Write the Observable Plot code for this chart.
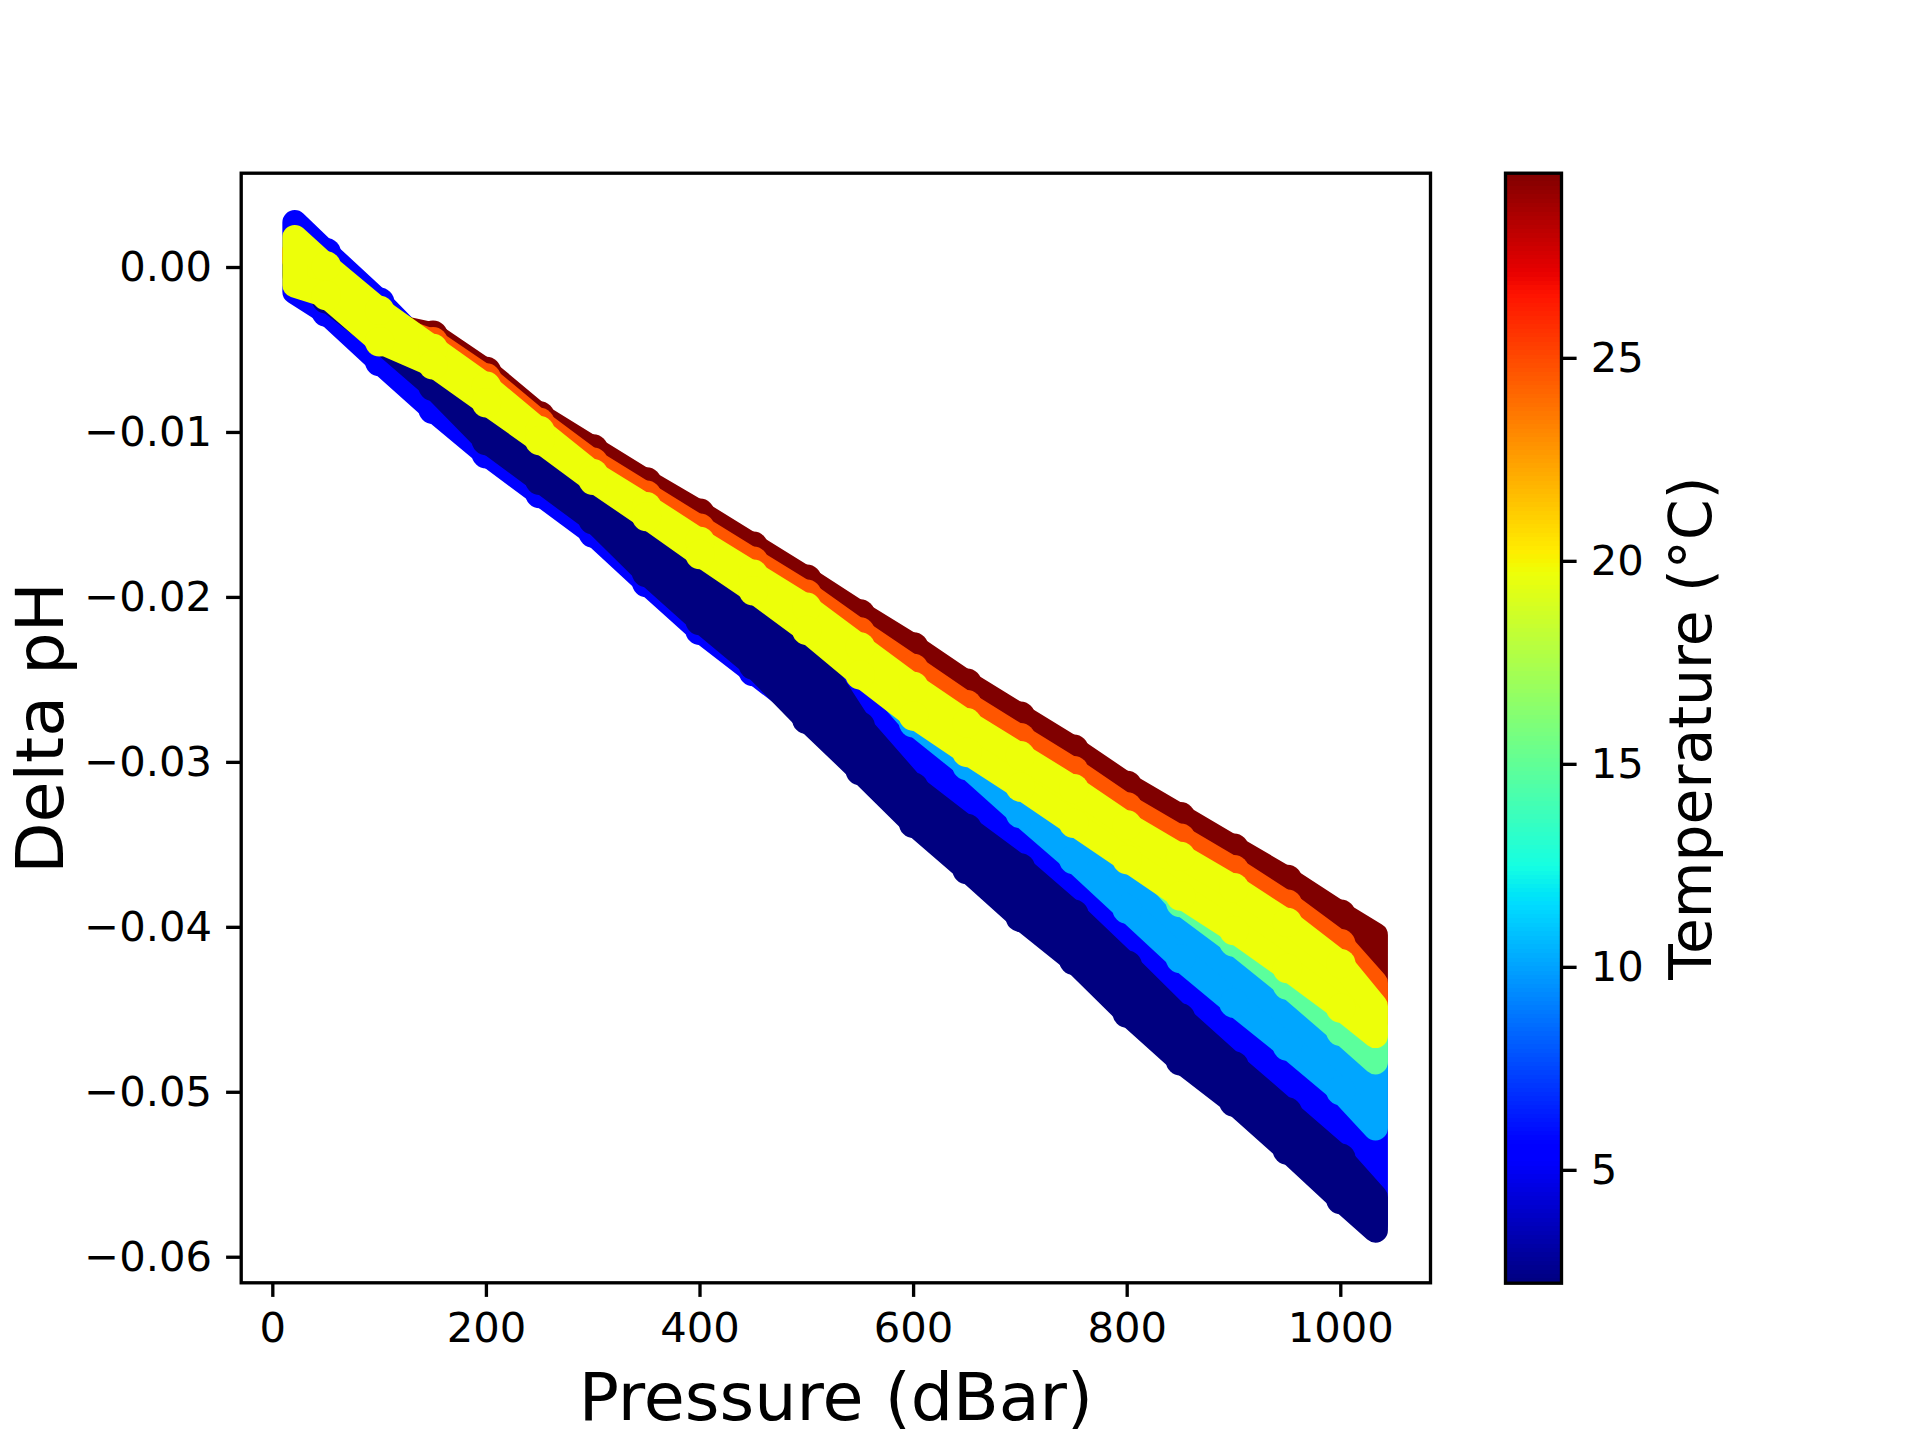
<!DOCTYPE html>
<html>
<head>
<meta charset="utf-8">
<script src="https://cdn.jsdelivr.net/npm/d3@7"></script>
<script src="https://cdn.jsdelivr.net/npm/@observablehq/plot@0.6"></script>
<style>
  html, body { margin: 0; padding: 0; background: #fff; }
  #chart { position: relative; width: 1920px; height: 1440px; background: #fff; }
  #chart svg { position: absolute; top: 0; }
</style>
</head>
<body>
<div id="chart"></div>
<script>
// ---------------- data ----------------
const pressure = [21, 50, 100, 150, 200, 250, 300, 350, 400, 450, 500, 550, 600, 650, 700, 750, 800, 850, 900, 950, 1000, 1033];

// temperature of each group of points (°C), in drawing order
const groupNames = ["blue", "navy", "lightBlue", "aqua", "darkRed", "orange", "yellow"];
const groupTemps = [5.5, 2.22, 10.1, 14.8, 29.56, 24.6, 19.7];

// upper-most / lower-most point centres (delta pH) of each temperature group
const blueTop      = [0.0027, 0.0009, -0.0021, -0.0054, -0.0077, -0.0102, -0.0127, -0.0148, -0.0170, -0.0191, -0.0213, -0.0239, -0.0263, -0.0285, -0.0306, -0.0327, -0.0349, -0.0369, -0.0389, -0.0411, -0.0436, -0.0457];
const blueBottom   = [-0.0015, -0.0027, -0.0057, -0.0086, -0.0113, -0.0137, -0.0161, -0.0191, -0.0220, -0.0245, -0.0270, -0.0301, -0.0333, -0.0361, -0.0390, -0.0416, -0.0448, -0.0477, -0.0502, -0.0531, -0.0561, -0.0580];
const navyTop      = [0.0004, -0.0008, -0.0036, -0.0054, -0.0077, -0.0102, -0.0127, -0.0148, -0.0170, -0.0191, -0.0228, -0.0278, -0.0315, -0.0340, -0.0364, -0.0392, -0.0423, -0.0455, -0.0484, -0.0512, -0.0540, -0.0564];
const navyBottom   = [-0.0005, -0.0019, -0.0044, -0.0072, -0.0105, -0.0129, -0.0153, -0.0185, -0.0214, -0.0241, -0.0274, -0.0305, -0.0337, -0.0365, -0.0394, -0.0420, -0.0452, -0.0481, -0.0506, -0.0535, -0.0565, -0.0584];
const lightBlueTop = [0.0004, -0.0008, -0.0036, -0.0054, -0.0077, -0.0102, -0.0127, -0.0148, -0.0170, -0.0191, -0.0213, -0.0239, -0.0263, -0.0285, -0.0306, -0.0327, -0.0349, -0.0369, -0.0389, -0.0411, -0.0436, -0.0457];
const lightBlueBottom = [0.0004, -0.0008, -0.0036, -0.0054, -0.0077, -0.0102, -0.0127, -0.0148, -0.0170, -0.0191, -0.0213, -0.0239, -0.0276, -0.0302, -0.0331, -0.0359, -0.0389, -0.0419, -0.0446, -0.0472, -0.0499, -0.0522];
const aquaTop      = [0.0004, -0.0008, -0.0036, -0.0054, -0.0077, -0.0102, -0.0127, -0.0148, -0.0170, -0.0191, -0.0213, -0.0239, -0.0263, -0.0285, -0.0306, -0.0327, -0.0349, -0.0369, -0.0389, -0.0411, -0.0436, -0.0457];
const aquaBottom   = [0.0004, -0.0008, -0.0036, -0.0054, -0.0077, -0.0102, -0.0127, -0.0148, -0.0170, -0.0191, -0.0213, -0.0239, -0.0263, -0.0285, -0.0306, -0.0327, -0.0349, -0.0385, -0.0409, -0.0435, -0.0463, -0.0482];
const darkRedTop   = [0.0010, -0.0007, -0.0034, -0.0041, -0.0063, -0.0090, -0.0110, -0.0130, -0.0149, -0.0169, -0.0189, -0.0210, -0.0230, -0.0252, -0.0272, -0.0292, -0.0314, -0.0333, -0.0352, -0.0371, -0.0392, -0.0405];
const darkRedBottom = [0.0004, -0.0008, -0.0036, -0.0054, -0.0077, -0.0102, -0.0127, -0.0148, -0.0170, -0.0191, -0.0213, -0.0239, -0.0263, -0.0285, -0.0306, -0.0327, -0.0349, -0.0369, -0.0389, -0.0411, -0.0436, -0.0457];
const orangeTop    = [0.0010, -0.0007, -0.0034, -0.0045, -0.0067, -0.0094, -0.0118, -0.0138, -0.0158, -0.0178, -0.0198, -0.0221, -0.0243, -0.0265, -0.0285, -0.0305, -0.0327, -0.0346, -0.0365, -0.0386, -0.0410, -0.0434];
const orangeBottom = [0.0004, -0.0008, -0.0036, -0.0054, -0.0077, -0.0102, -0.0127, -0.0148, -0.0170, -0.0191, -0.0213, -0.0239, -0.0263, -0.0285, -0.0306, -0.0327, -0.0349, -0.0369, -0.0389, -0.0411, -0.0436, -0.0457];
const yellowTop    = [0.0018, 0.0001, -0.0026, -0.0049, -0.0072, -0.0099, -0.0125, -0.0145, -0.0166, -0.0186, -0.0206, -0.0230, -0.0254, -0.0276, -0.0296, -0.0316, -0.0338, -0.0357, -0.0376, -0.0397, -0.0422, -0.0448];
const yellowBottom = [-0.0011, -0.0017, -0.0045, -0.0059, -0.0082, -0.0105, -0.0129, -0.0151, -0.0174, -0.0196, -0.0220, -0.0247, -0.0272, -0.0294, -0.0315, -0.0337, -0.0359, -0.0381, -0.0402, -0.0425, -0.0449, -0.0466];

const groupTop    = [blueTop, navyTop, lightBlueTop, aquaTop, darkRedTop, orangeTop, yellowTop];
const groupBottom = [blueBottom, navyBottom, lightBlueBottom, aquaBottom, darkRedBottom, orangeBottom, yellowBottom];

// axes
const xTicks = [0, 200, 400, 600, 800, 1000];
const yTicks = [0, -0.01, -0.02, -0.03, -0.04, -0.05, -0.06];
const colorbarTicks = [5, 10, 15, 20, 25];
const tempMin = 2.22, tempMax = 29.56;
const xLabel = "Pressure (dBar)";
const yLabel = "Delta pH";
const colorLabel = "Temperature (°C)";

// jet colormap (matplotlib) stops
const jetStops  = [0, 0.11, 0.125, 0.34, 0.35, 0.375, 0.64, 0.65, 0.66, 0.89, 0.91, 1];
const jetColors = ["#000080", "#0000ff", "#0000ff", "#00dbff", "#00e5f7", "#15ffe2", "#eeff08", "#f7f500", "#ffec00", "#ff1300", "#e80000", "#800000"];

// ---------------- chart ----------------
const jetDomain = jetStops.map(s => tempMin + s * (tempMax - tempMin));
const colorScale = {type: "linear", domain: jetDomain, range: jetColors, interpolate: "rgb"};

const rows = groupTemps.flatMap((T, gi) =>
  pressure.map((p, i) => ({g: gi, i, p, top: groupTop[gi][i], bottom: groupBottom[gi][i], T}))
);

const markerRadius = 14.7;
const bandHalf = 12.4;   // a little under the marker radius so the markers scallop the edges
const font = "DejaVu Sans";
const lastIndex = pressure.length - 1;

const groupMarks = groupTemps.flatMap((T, gi) => {
  const g = rows.filter(d => d.g === gi);
  const inner = g.filter(d => d.i > 0 && d.i < lastIndex);
  return [
    Plot.area(g, {x1: "p", y1: "bottom", y2: "top", fill: "T", stroke: "T", strokeWidth: 2 * bandHalf, strokeLinejoin: "round"}),
    Plot.dot(inner, {x: "p", y: "top", r: markerRadius, fill: "T"}),
    Plot.dot(inner, {x: "p", y: "bottom", r: markerRadius, fill: "T"})
  ];
});

const main = Plot.plot({
  width: 1920,
  height: 1440,
  marginLeft: 240.7,
  marginRight: 490,
  marginTop: 172.7,
  marginBottom: 157.7,
  style: {fontFamily: font, fontSize: "41.7px", background: "white", color: "black", overflow: "visible"},
  x: {domain: [-29.6, 1084]},
  y: {domain: [-0.06155, 0.005717]},
  color: colorScale,
  marks: [
    ...groupMarks,
    Plot.frame({stroke: "black", strokeWidth: 3.33}),
    Plot.axisX({ticks: xTicks, tickFormat: "d", tickSize: 14.6, tickPadding: 15, strokeWidth: 3.33, label: null, fontSize: 41.7}),
    Plot.axisY({ticks: yTicks, tickFormat: ".2f", tickSize: 14.6, tickPadding: 14.6, strokeWidth: 3.33, label: null, fontSize: 41.7}),
    Plot.text([xLabel], {text: d => d, frameAnchor: "bottom", textAnchor: "middle", lineAnchor: "bottom", dy: 136.7, fontSize: 66.7}),
    Plot.text([yLabel], {text: d => d, frameAnchor: "left", textAnchor: "middle", lineAnchor: "bottom", rotate: -90, dx: -178.7, fontSize: 66.7})
  ]
});
main.style.left = "0px";
document.getElementById("chart").appendChild(main);

// colorbar
const nSlices = 256;
const slices = d3.range(nSlices).map(i => ({
  y1: tempMin + i * (tempMax - tempMin) / nSlices,
  y2: tempMin + (i + 1) * (tempMax - tempMin) / nSlices,
  v: tempMin + (i + 0.5) * (tempMax - tempMin) / nSlices
}));

const cbar = Plot.plot({
  width: 420,
  height: 1440,
  marginLeft: 5,
  marginRight: 359,
  marginTop: 172.7,
  marginBottom: 157.3,
  style: {fontFamily: font, fontSize: "41.7px", background: "white", color: "black", overflow: "visible"},
  x: {domain: [0, 1], axis: null},
  y: {domain: [tempMin, tempMax]},
  color: colorScale,
  marks: [
    Plot.rect(slices, {x1: () => 0, x2: () => 1, y1: "y1", y2: "y2", fill: "v", shapeRendering: "crispEdges"}),
    Plot.frame({stroke: "black", strokeWidth: 3.33}),
    Plot.axisY({anchor: "right", ticks: colorbarTicks, tickFormat: "d", tickSize: 14.6, tickPadding: 14.6, strokeWidth: 3.33, label: null, fontSize: 41.7}),
    Plot.text([colorLabel], {text: d => d, frameAnchor: "right", textAnchor: "middle", lineAnchor: "bottom", rotate: -90, dx: 149, fontSize: 58.3})
  ]
});
cbar.style.left = "1500px";
document.getElementById("chart").appendChild(cbar);
</script>
</body>
</html>
